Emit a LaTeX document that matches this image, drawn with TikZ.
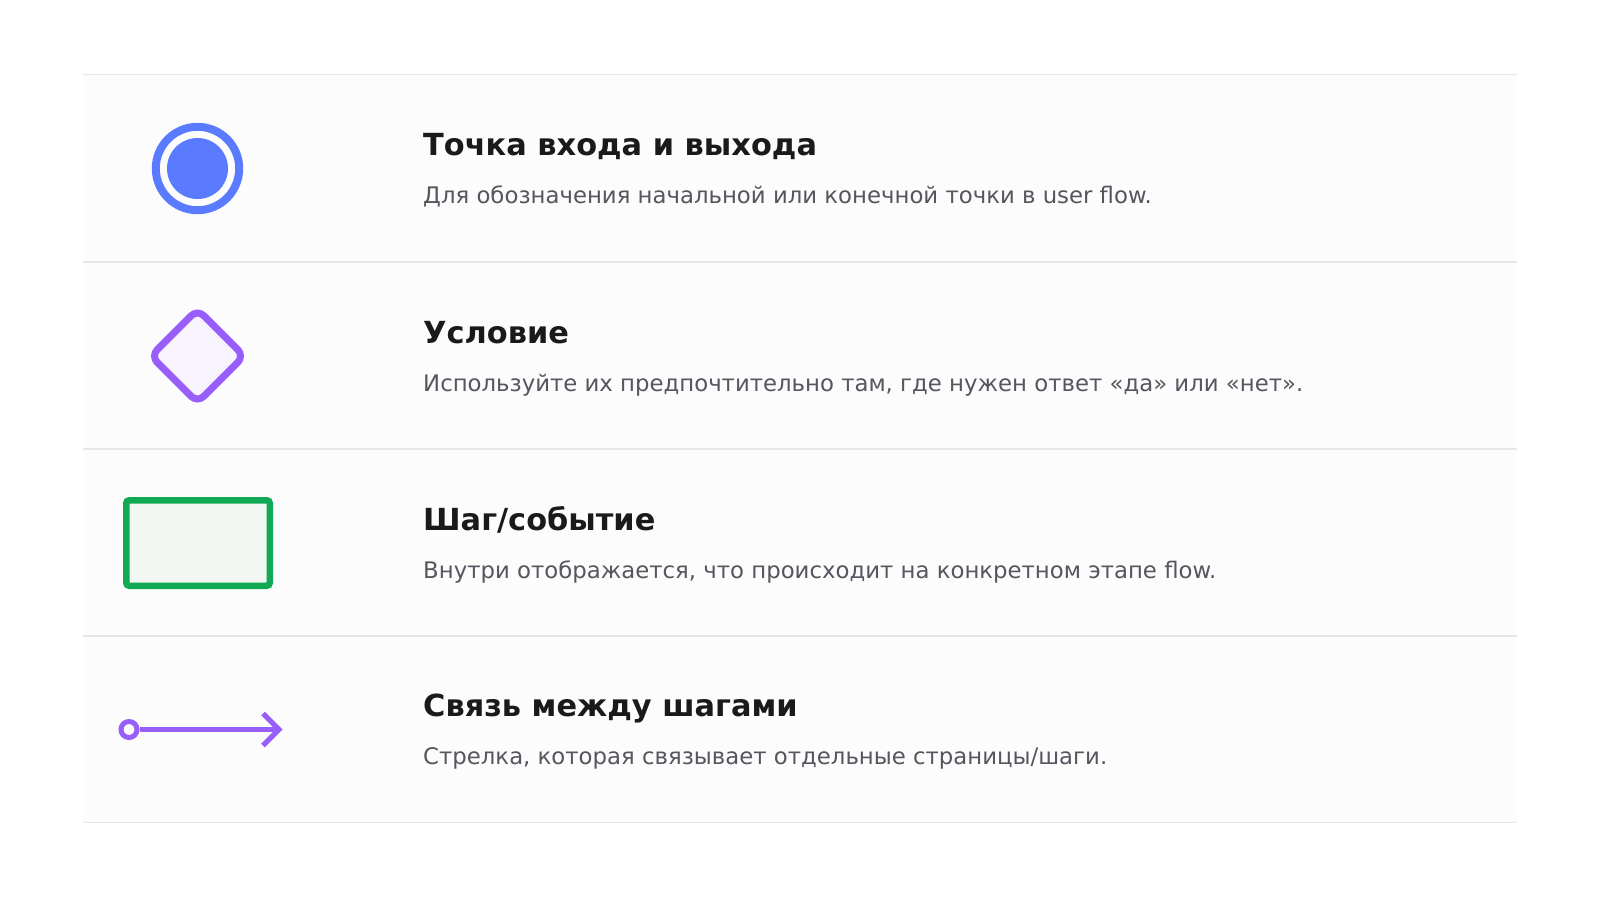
\documentclass[tikz,border=0pt]{standalone}
\usepackage{fontspec}
\setmainfont{DejaVu Sans}
\definecolor{rowbg}{HTML}{FCFCFD}
\definecolor{sepcol}{HTML}{E6E6E9}
\definecolor{titlecol}{HTML}{1A1A1A}
\definecolor{desccol}{HTML}{55565E}
\definecolor{bluec}{HTML}{5A7BFF}
\definecolor{purplec}{HTML}{985EFA}
\definecolor{purplefill}{HTML}{F8F4FF}
\definecolor{greenc}{HTML}{12A955}
\definecolor{greenfill}{HTML}{F2F7F4}
\tikzset{
  ttl/.style={anchor=base west, inner sep=0pt, text=titlecol, font=\fontsize{30.4}{34}\selectfont\bfseries},
  dsc/.style={anchor=base west, inner sep=0pt, text=desccol, font=\fontsize{22.8}{26}\selectfont},
  sep/.style={draw=sepcol, line width=1.5pt},
}
\begin{document}
\begin{tikzpicture}[x=1pt,y=-1pt]
\useasboundingbox[fill=white] (0,0) rectangle (1600,900);
\fill[rowbg] (83,74.5) rectangle (1517,822.5);
\foreach \yy/\nm in {74.5/s0,262/s1,449/s2,636/s3,822.5/s4}{
  \coordinate (\nm a) at (83,\yy);
  \coordinate (\nm b) at (1517,\yy);
  \draw[sep] (\nm a) -- (\nm b);
}
% row 1
\node[circle, draw=bluec, line width=8pt, minimum size=83.4pt, inner sep=0pt] (ring) at (197.5,168.5) {};
\node[circle, fill=bluec, minimum size=61pt, inner sep=0pt] (dot) at (ring.center) {};
\node[ttl] (t1) at (423,155.5) {Точка входа и выхода};
\node[dsc] (d1) at (423,203.5) {Для обозначения начальной или конечной точки в user flow.};
% row 2
\node[draw=purplec, fill=purplefill, line width=7pt, rotate=45, minimum size=66pt, inner sep=0pt, rounded corners=9pt] (dia) at (197.5,356) {};
\node[ttl] (t2) at (423,343) {Условие};
\node[dsc] (d2) at (423,391) {Используйте их предпочтительно там, где нужен ответ «да» или «нет».};
% row 3
\node[draw=greenc, fill=greenfill, line width=6.5pt, minimum width=143.5pt, minimum height=85.5pt, inner sep=0pt, rounded corners=3pt] (box) at (198,543) {};
\node[ttl] (t3) at (423,530) {Шаг/событие};
\node[dsc] (d3) at (423,578) {Внутри отображается, что происходит на конкретном этапе flow.};
% row 4
\node[circle, draw=purplec, line width=5pt, minimum size=16pt, inner sep=0pt] (src) at (129,729.5) {};
\coordinate (tip) at (279,729.5);
\draw[purplec, line width=5pt] (src) -- (tip);
\draw[purplec, line width=5pt, line join=miter] (tip) ++(-16,-16) -- (tip) -- ++(-16,16);
\node[ttl] (t4) at (423,716) {Связь между шагами};
\node[dsc] (d4) at (423,764) {Стрелка, которая связывает отдельные страницы/шаги.};
\end{tikzpicture}
\end{document}
